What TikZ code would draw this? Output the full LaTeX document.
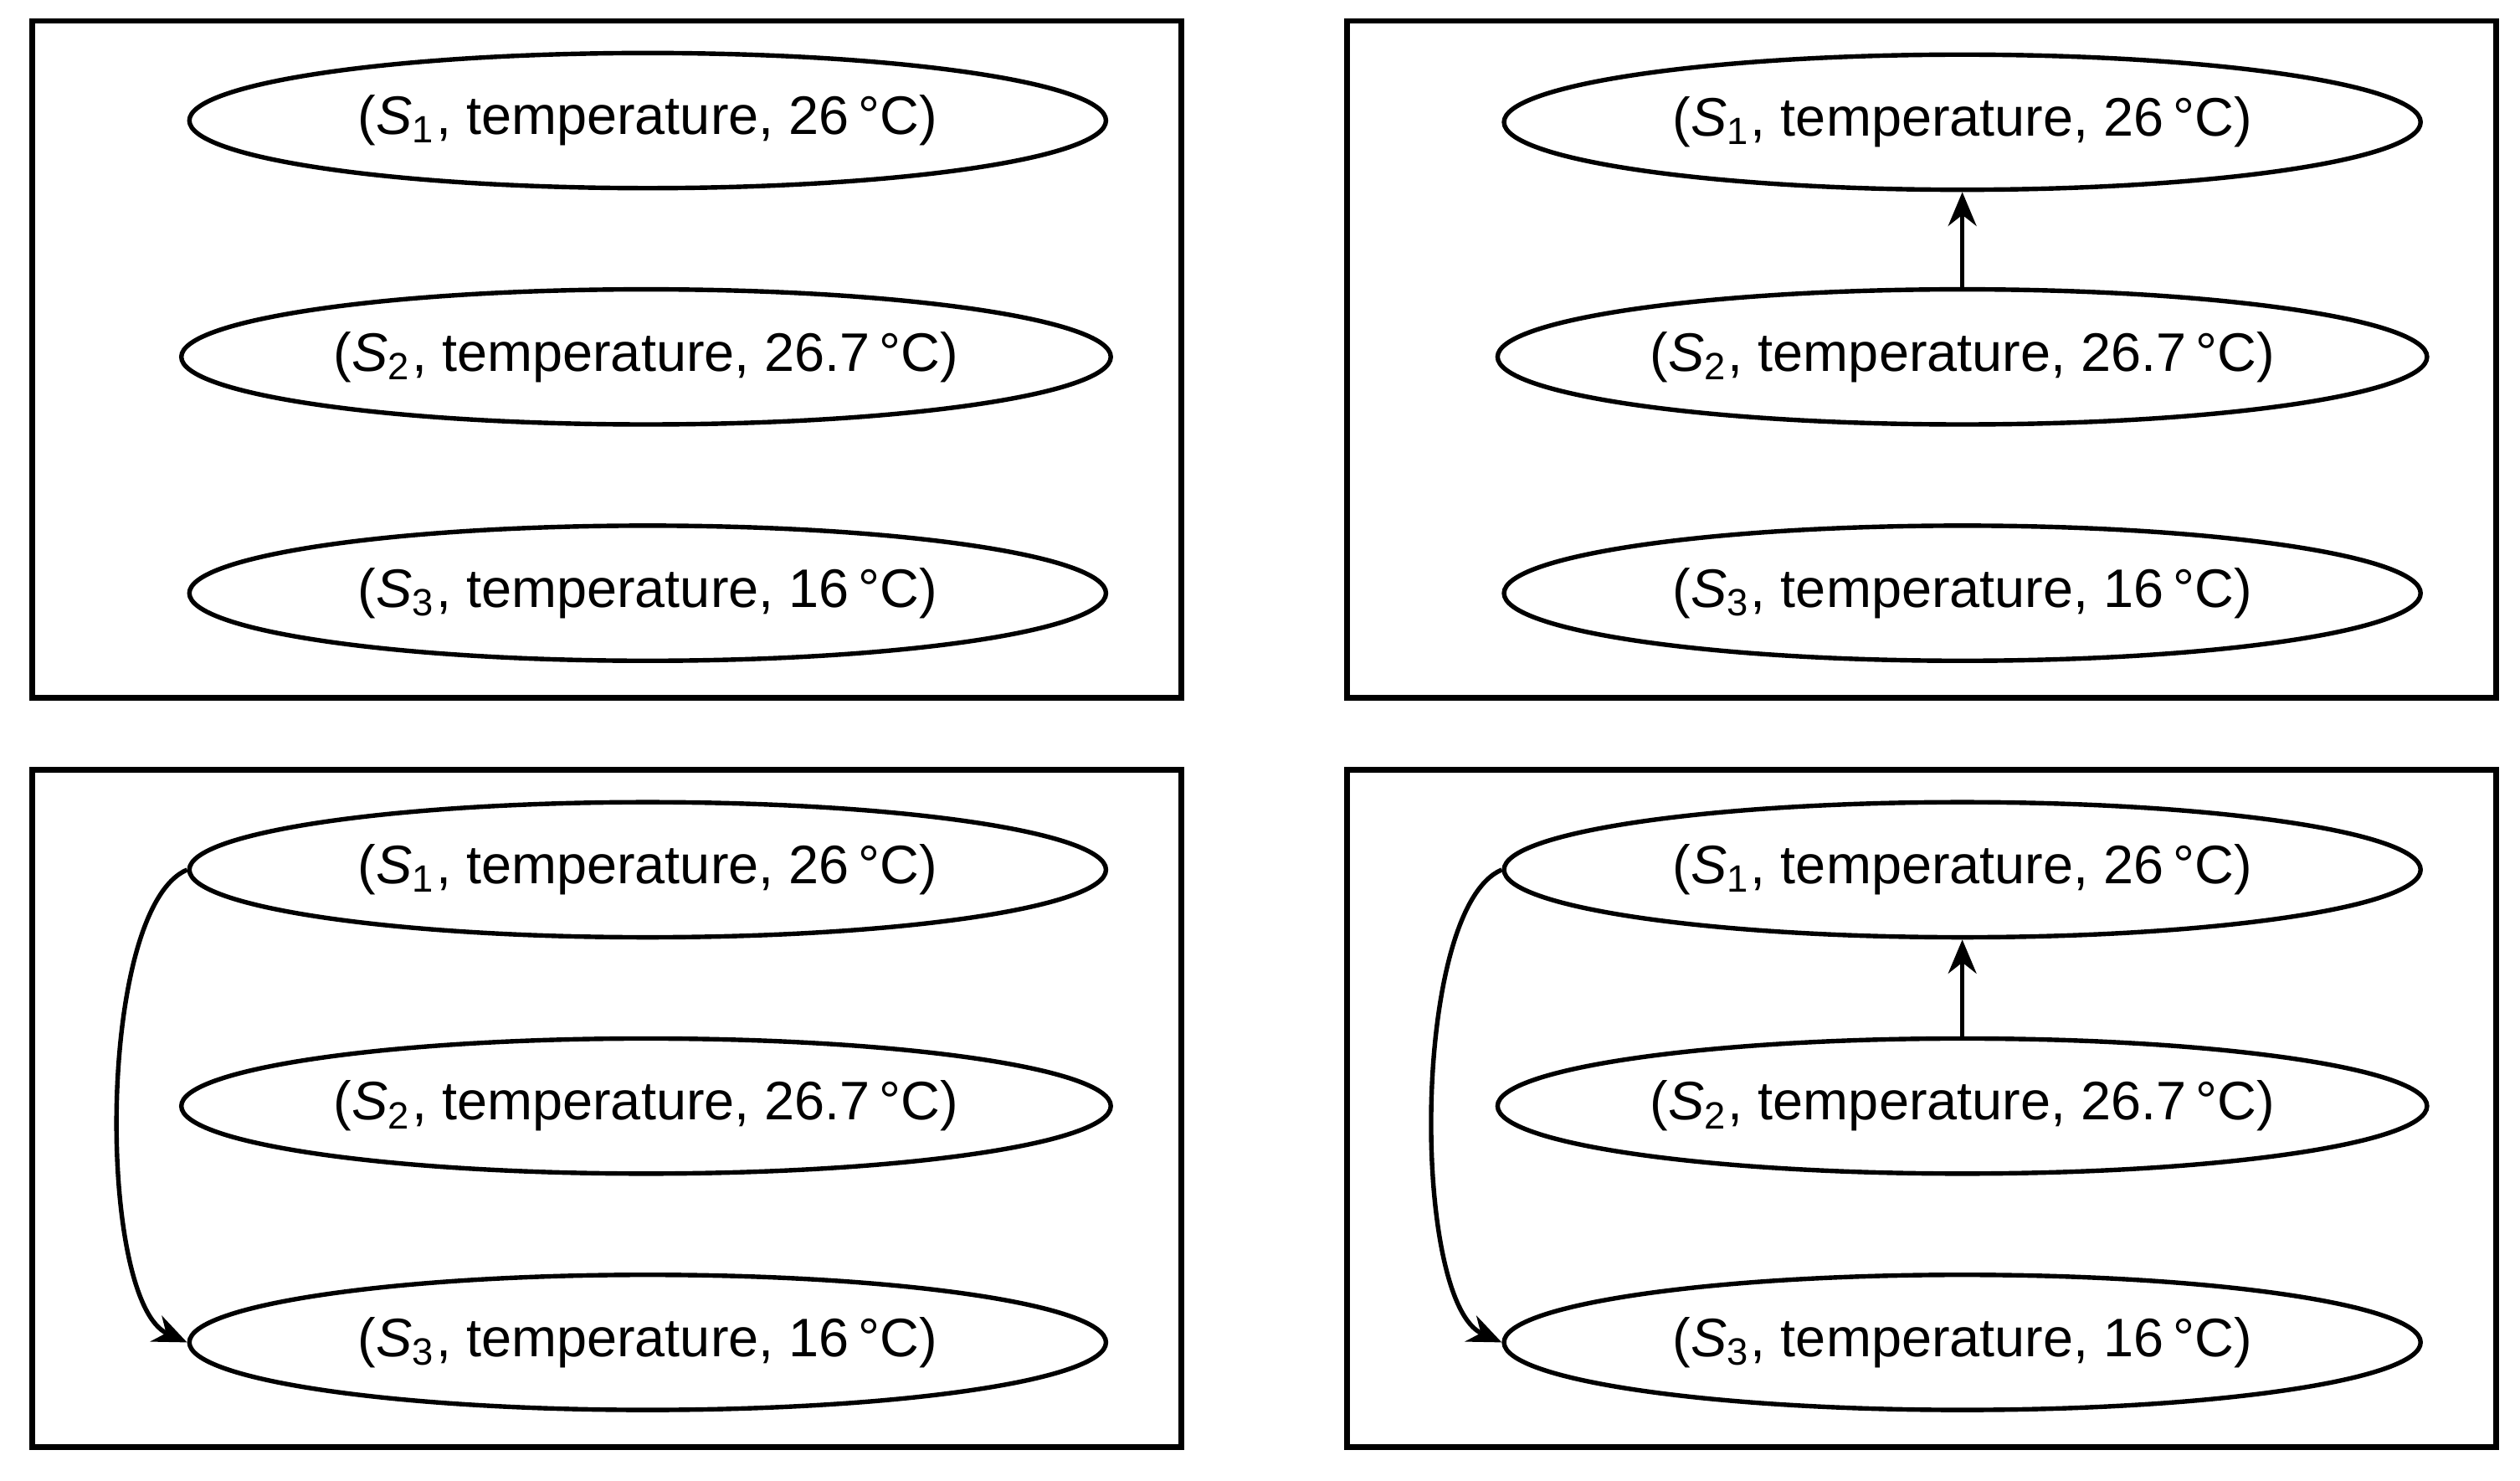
\documentclass[tikz,border=0pt]{standalone}
\usepackage{fontspec}
\setmainfont{Liberation Sans}
\usetikzlibrary{shapes.geometric,arrows.meta}
\tikzset{
  panel/.style={draw,line width=1.0pt},
  ell/.style={draw,ellipse,line width=0.8pt,inner sep=0pt,minimum height=0.84cm,font=\fontsize{9.6}{11}\selectfont},
  wide/.style={ell,minimum width=5.78cm},
  narrow/.style={ell,minimum width=5.7cm},
  conn/.style={line width=0.8pt,-{Stealth[length=6pt,width=5pt]}}
}
\newcommand{\lab}[2]{(\textit{S}\textsubscript{#1}, temperature, #2\,°C)}
\begin{document}
\begin{tikzpicture}[x=0.01cm,y=-0.01cm]
\useasboundingbox (0,0) rectangle (1568,921);
\foreach \px/\py [count=\i] in {20/13,838/13,20/479,838/479}{
  \draw[panel] (\px,\py) rectangle ++(715,421);
}
% top-left
\node[narrow] (a1) at (403,75) {\lab{1}{26}};
\node[wide] (a2) at (402,222) {\lab{2}{26.7}};
\node[narrow] (a3) at (403,369) {\lab{3}{16}};
% top-right
\node[narrow] (b1) at (1221,76) {\lab{1}{26}};
\node[wide] (b2) at (1221,222) {\lab{2}{26.7}};
\node[narrow] (b3) at (1221,369) {\lab{3}{16}};
\draw[conn] (b2.north) -- (b1.south);
% bottom-left
\node[narrow] (c1) at (403,541) {\lab{1}{26}};
\node[wide] (c2) at (402,688) {\lab{2}{26.7}};
\node[narrow] (c3) at (403,835) {\lab{3}{16}};
\draw[conn] (c1.west) .. controls (60,565) and (60,810) .. (c3.west);
% bottom-right
\node[narrow] (d1) at (1221,541) {\lab{1}{26}};
\node[wide] (d2) at (1221,688) {\lab{2}{26.7}};
\node[narrow] (d3) at (1221,835) {\lab{3}{16}};
\draw[conn] (d2.north) -- (d1.south);
\draw[conn] (d1.west) .. controls (878,565) and (878,810) .. (d3.west);
\end{tikzpicture}
\end{document}
